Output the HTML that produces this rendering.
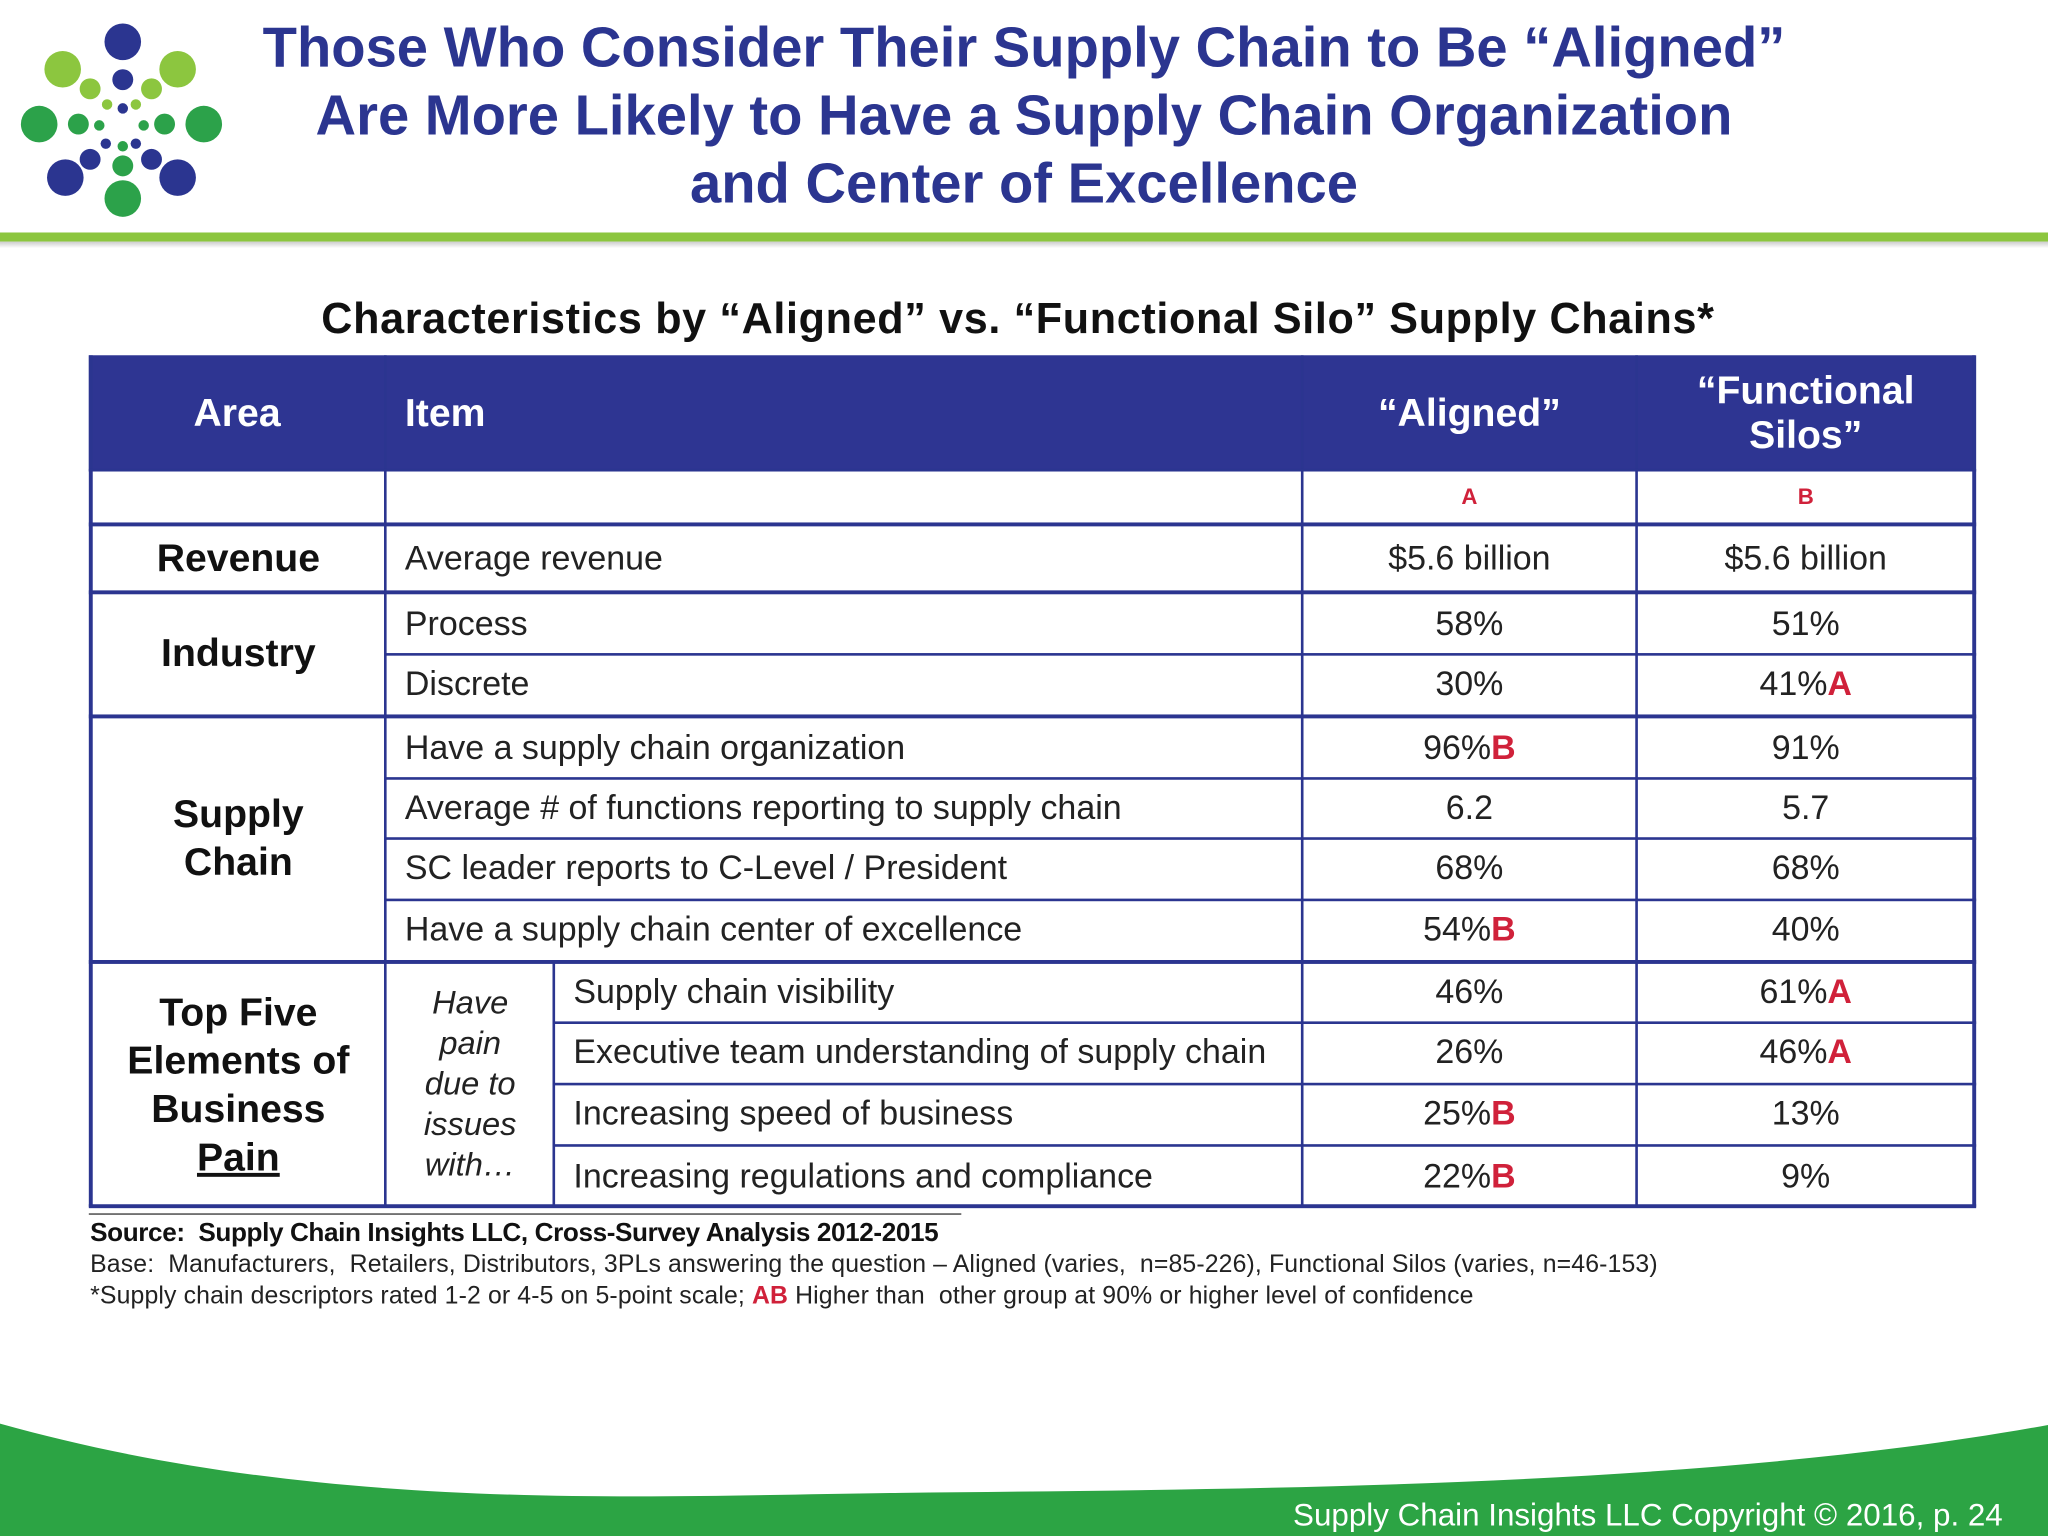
<!DOCTYPE html>
<html><head><meta charset="utf-8">
<style>
html,body{margin:0;padding:0;width:2048px;height:1536px;overflow:hidden;background:#fff}
#s{position:absolute;left:0;top:0;width:1568px;height:1176px;transform:scale(1.306122);transform-origin:0 0;font-family:"Liberation Sans",sans-serif}
.a{position:absolute}
.t{position:absolute;white-space:nowrap}
.title{color:#2b3590;font-weight:bold;font-size:43px;text-align:center;left:134px;width:1300px;line-height:52px;top:11px}
.hl{position:absolute;background:#2b3590}
.c{position:absolute;display:flex;align-items:center;font-size:26px;color:#222}
.cc{justify-content:center;text-align:center}
.r{color:#d0213a;font-weight:bold}
.hd{color:#fff;font-weight:bold;font-size:30px}
.ar{font-weight:bold;font-size:30px;color:#111;line-height:37px}
</style></head><body>
<div id="s">
<svg class="a" style="left:0;top:0" width="180" height="180">
<g>
<circle cx="94" cy="32" r="14" fill="#2b3590"/><circle cx="94" cy="61" r="8" fill="#2b3590"/><circle cx="94" cy="83" r="4" fill="#2b3590"/>
<circle cx="48" cy="53" r="14" fill="#8cc63f"/><circle cx="69" cy="68" r="8" fill="#8cc63f"/><circle cx="82" cy="80" r="4" fill="#8cc63f"/>
<circle cx="136" cy="53" r="14" fill="#8cc63f"/><circle cx="116" cy="68" r="8" fill="#8cc63f"/><circle cx="104" cy="80" r="4" fill="#8cc63f"/>
<circle cx="30" cy="95" r="14" fill="#2ca24a"/><circle cx="60" cy="95" r="8" fill="#2ca24a"/><circle cx="76" cy="96" r="4" fill="#2ca24a"/>
<circle cx="156" cy="95" r="14" fill="#2ca24a"/><circle cx="126" cy="95" r="8" fill="#2ca24a"/><circle cx="110" cy="96" r="4" fill="#2ca24a"/>
<circle cx="50" cy="136" r="14" fill="#2b3590"/><circle cx="69" cy="122" r="8" fill="#2b3590"/><circle cx="81" cy="110" r="4" fill="#2b3590"/>
<circle cx="136" cy="136" r="14" fill="#2b3590"/><circle cx="116" cy="122" r="8" fill="#2b3590"/><circle cx="104" cy="110" r="4" fill="#2b3590"/>
<circle cx="94" cy="152" r="14" fill="#2ca24a"/><circle cx="94" cy="127" r="8" fill="#2ca24a"/><circle cx="94" cy="112" r="4" fill="#2ca24a"/>
</g></svg>
<div class="t title">Those Who Consider Their Supply Chain to Be “Aligned”<br>Are More Likely to Have a Supply Chain Organization<br>and Center of Excellence</div>
<div class="a" style="left:0;top:178px;width:1568px;height:7px;background:#8cc63f"></div>
<div class="a" style="left:0;top:185px;width:1568px;height:5px;background:linear-gradient(#ccc,#fff)"></div>
<div class="t" style="left:246px;top:225px;font-size:33px;font-weight:bold;color:#111;letter-spacing:0.5px">Characteristics by “Aligned” vs. “Functional Silo” Supply Chains*</div>

<div class="a" style="left:68px;top:272px;width:1444px;height:89px;background:#2e3592"></div>
<div class="c hd cc" style="left:68px;top:272px;width:227px;height:89px">Area</div>
<div class="c hd" style="left:310px;top:272px;width:600px;height:89px">Item</div>
<div class="c hd cc" style="left:997px;top:272px;width:256px;height:89px">“Aligned”</div>
<div class="c hd cc" style="left:1253px;top:272px;width:259px;height:89px;line-height:34px"><div>“Functional<br>Silos”</div></div>

<div id="grid"></div>

<div class="c cc r" style="left:997px;top:361px;width:256px;height:39px;font-size:17px">A</div>
<div class="c cc r" style="left:1253px;top:361px;width:259px;height:39px;font-size:17px">B</div>

<div class="c cc ar" style="left:70px;top:402px;width:225px;height:50px">Revenue</div>
<div class="c cc ar" style="left:70px;top:454px;width:225px;height:93px">Industry</div>
<div class="c cc ar" style="left:70px;top:549px;width:225px;height:186px"><div>Supply<br>Chain</div></div>
<div class="c cc ar" style="left:70px;top:737px;width:225px;height:187px"><div>Top Five<br>Elements of<br>Business<br><u>Pain</u></div></div>
<div class="c cc" style="left:297px;top:737px;width:126px;height:187px;font-style:italic;font-size:25px;line-height:31px"><div>Have<br>pain<br>due to<br>issues<br>with…</div></div>

<div class="a" style="left:68px;top:929px;width:668px;height:1px;background:#333"></div>
<div class="t" style="left:69px;top:933px;font-size:20px;font-weight:bold;color:#111;letter-spacing:-0.3px">Source:&nbsp; Supply Chain Insights LLC, Cross-Survey Analysis 2012-2015</div>
<div class="t" style="left:69px;top:958px;font-size:19px;color:#222;letter-spacing:0.1px">Base:&nbsp; Manufacturers,&nbsp; Retailers, Distributors, 3PLs answering the question – Aligned (varies,&nbsp; n=85-226), Functional Silos (varies, n=46-153)</div>
<div class="t" style="left:69px;top:982px;font-size:19px;color:#222;letter-spacing:0.1px">*Supply chain descriptors rated 1-2 or 4-5 on 5-point scale; <span class="r">AB</span> Higher than&nbsp; other group at 90% or higher level of confidence</div>

<svg class="a" style="left:0;top:1080px" width="1568" height="96">
<path d="M0 10 C 250 80, 500 65, 690 63 C 950 60, 1300 60, 1568 11 L1568 96 L0 96 Z" fill="#2ca444"/>
</svg>
<div class="t" style="left:990px;top:1147px;font-size:24px;color:#fff">Supply Chain Insights LLC Copyright © 2016, p. 24</div>
</div>
<script>
const items=["Average revenue","Process","Discrete","Have a supply chain organization","Average # of functions reporting to supply chain","SC leader reports to C-Level / President","Have a supply chain center of excellence","Supply chain visibility","Executive team understanding of supply chain","Increasing speed of business","Increasing regulations and compliance"];
const alignedVals=["$5.6 billion","58%","30%","96%","6.2","68%","54%","46%","26%","25%","22%"];
const alignedSig=["","","","B","","","B","","","B","B"];
const siloVals=["$5.6 billion","51%","41%","91%","5.7","68%","40%","61%","46%","13%","9%"];
const siloSig=["","","A","","","","","A","A","",""];
const rowTops=[402,454,500,549,595,641,688,737,782,829,876];
const rowBots=[452,500,547,595,641,688,735,782,829,876,924];
const s=document.getElementById('s');
function add(cls,style,html,name){const d=document.createElement('div');d.className=cls;d.setAttribute('style',style);if(html!==null)d.innerHTML=html;


s.appendChild(d);return d;}
function line(x,y,w,h,name){add('hl','left:'+x+'px;top:'+y+'px;width:'+w+'px;height:'+h+'px',null,name);}
line(68,272,3,652,'table-border-left');line(1510,272,3,652,'table-border-right');line(68,922,1445,3,'table-border-bottom');
line(294,272,2,652,'divider-area');line(996,272,2,652,'divider-aligned');line(1252,272,2,652,'divider-silos');
line(68,359,1445,2,'header-bottom');
[400,452,547,735].forEach((y,i)=>line(68,y,1445,3,'group-divider-'+i));
[500,595,641,688].forEach((y,i)=>line(295,y,1218,2,'row-divider-'+i));
[782,829,876].forEach((y,i)=>line(423,y,1090,2,'pain-row-divider-'+i));
line(423,737,2,187,'pain-subdivider');
items.forEach((it,i)=>{
 const top=rowTops[i],h=rowBots[i]-top;const x=i>=7?439:310;
 add('c','left:'+x+'px;top:'+top+'px;height:'+h+'px;width:'+(990-x)+'px','<span>'+it+'</span>','item-'+i);
 add('c cc','left:997px;top:'+top+'px;height:'+h+'px;width:256px','<span>'+alignedVals[i]+(alignedSig[i]?'<span class="r">'+alignedSig[i]+'</span>':'')+'</span>','aligned-value-'+i);
 add('c cc','left:1253px;top:'+top+'px;height:'+h+'px;width:259px','<span>'+siloVals[i]+(siloSig[i]?'<span class="r">'+siloSig[i]+'</span>':'')+'</span>','silo-value-'+i);
});
</script>
</body></html>
